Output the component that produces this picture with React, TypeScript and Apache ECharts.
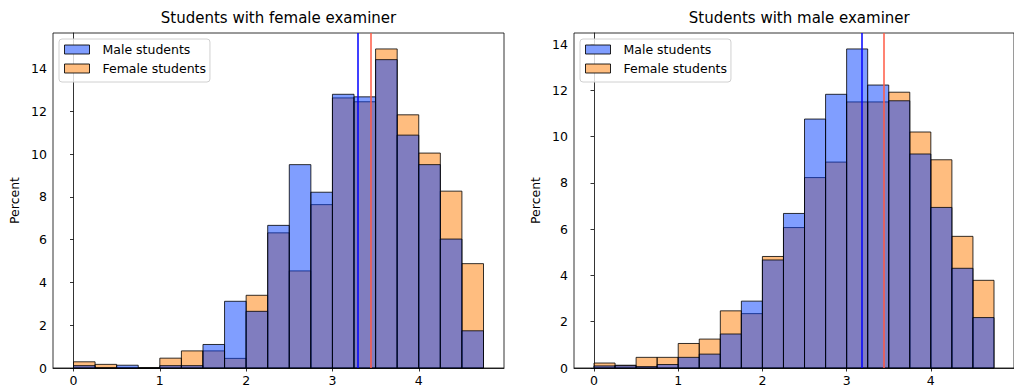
import React, { useEffect, useRef } from "react";
import * as echarts from "echarts";

// Histogram bins (start of each 0.25-wide bin)
const binStarts = [0, 0.25, 0.5, 0.75, 1, 1.25, 1.5, 1.75, 2, 2.25, 2.5, 2.75, 3, 3.25, 3.5, 3.75, 4, 4.25, 4.5];
const binWidth = 0.25;

// Panel 1: students with female examiner (percent)
const femExMale = [0.11, 0, 0.13, 0, 0.11, 0.11, 1.1, 3.12, 2.65, 6.67, 9.51, 8.22, 12.8, 12.68, 14.42, 10.89, 9.51, 6.03, 1.74];
const femExFemale = [0.29, 0.17, 0, 0, 0.46, 0.8, 0.8, 0.45, 3.4, 6.32, 4.54, 7.64, 12.63, 12.45, 14.92, 11.84, 10.05, 8.27, 4.88];
const femExMeans = { male: 3.295, female: 3.442 };

// Panel 2: students with male examiner (percent)
const maleExMale = [0.09, 0.1, 0.06, 0.15, 0.46, 0.6, 1.47, 2.89, 4.67, 6.68, 10.76, 11.83, 13.79, 12.23, 11.55, 9.25, 6.94, 4.31, 2.18];
const maleExFemale = [0.215, 0.12, 0.46, 0.46, 1.06, 1.25, 2.47, 2.35, 4.82, 6.07, 8.23, 8.9, 11.5, 11.5, 11.92, 10.2, 9.0, 5.69, 3.79];
const maleExMeans = { male: 3.177, female: 3.44 };

const titles = ["Students with female examiner", "Students with male examiner"];
const xTicks = [0, 1, 2, 3, 4];
const yTicks = [0, 2, 4, 6, 8, 10, 12, 14];

const BLUE = "rgba(2,62,255,0.5)";
const ORANGE = "rgba(255,124,0,0.5)";
const FONT = "DejaVu Sans";

function histData(values: number[]) {
  return binStarts.map((s, i) => [s, s + binWidth, values[i]]);
}

function histSeries(name: string, values: number[], color: string, idx: number, mean?: { value: number; color: string }[]) {
  const s: any = {
    type: "custom",
    name,
    xAxisIndex: idx,
    yAxisIndex: idx,
    data: histData(values),
    encode: { x: [0, 1], y: 2 },
    renderItem: (params: any, api: any) => {
      const x0 = api.value(0);
      const x1 = api.value(1);
      const v = api.value(2);
      const p0 = api.coord([x0, v]);
      const p1 = api.coord([x1, 0]);
      return {
        type: "rect",
        shape: { x: p0[0], y: p0[1], width: p1[0] - p0[0], height: p1[1] - p0[1] },
        style: { fill: color, stroke: "rgba(0,0,0,0.8)", lineWidth: 1 },
      };
    },
  };
  if (mean) {
    s.markLine = {
      silent: true,
      symbol: "none",
      label: { show: false },
      animation: false,
      data: mean.map((m) => ({ xAxis: m.value, lineStyle: { color: m.color, width: 1.5, type: "solid" } })),
    };
  }
  return s;
}

export default function App() {
  const ref = useRef<HTMLDivElement>(null);
  useEffect(() => {
    if (!ref.current) return;
    const chart = echarts.init(ref.current, undefined, { renderer: "svg" });
    const grids = [
      { left: 53, top: 33, width: 451, height: 335 },
      { left: 574, top: 33, width: 450.5, height: 335 },
    ];
    const maxes = [
      Math.max(...femExMale, ...femExFemale) * 1.05,
      Math.max(...maleExMale, ...maleExFemale) * 1.05,
    ];
    const xAxis = [0, 1].map((i) => ({
      type: "value",
      gridIndex: i,
      min: -0.2375,
      max: 4.9875,
      splitLine: { show: false },
      axisLine: { show: true, onZero: false, lineStyle: { color: "#000", width: 0.8 } },
      axisTick: { show: true, customValues: xTicks, length: 3.5, lineStyle: { color: "#000", width: 0.8 } },
      axisLabel: { customValues: xTicks, margin: 6, color: "#000", fontSize: 12.5, fontFamily: FONT },
    }));
    const yAxis = [0, 1].map((i) => ({
      type: "value",
      gridIndex: i,
      min: 0,
      max: maxes[i],
      name: "Percent",
      nameLocation: "middle",
      nameRotate: 90,
      nameGap: 32,
      nameTextStyle: { color: "#000", fontSize: 12.5, fontFamily: FONT },
      splitLine: { show: false },
      axisLine: { show: true, lineStyle: { color: "#000", width: 0.8 } },
      axisTick: { show: true, customValues: yTicks, length: 3.5, lineStyle: { color: "#000", width: 0.8 } },
      axisLabel: { customValues: yTicks, margin: 6, color: "#000", fontSize: 12.5, fontFamily: FONT },
    }));
    const legendCommon = {
      orient: "vertical",
      top: 39,
      itemWidth: 25,
      itemHeight: 9,
      itemGap: 6,
      padding: [4, 4, 7, 5],
      backgroundColor: "rgba(255,255,255,0.8)",
      borderColor: "#d0d0d0",
      borderWidth: 1,
      borderRadius: 3,
      icon: "rect",
      selectedMode: false,
      textStyle: { fontSize: 12.5, color: "#000", fontFamily: FONT, padding: [0, 0, 0, 8] },
      data: [
        { name: "Male students", itemStyle: { color: "#809eff", borderColor: "rgba(0,0,0,0.85)", borderWidth: 1 } },
        { name: "Female students", itemStyle: { color: "#ffbd7f", borderColor: "rgba(0,0,0,0.85)", borderWidth: 1 } },
      ],
    };
    chart.setOption({
      animation: false,
      title: [
        { text: titles[0], left: 53 + 451 / 2, top: 10, textAlign: "center", padding: 0, textStyle: { fontSize: 15, fontWeight: "normal", color: "#000", fontFamily: FONT } },
        { text: titles[1], left: 574 + 450.5 / 2, top: 10, textAlign: "center", padding: 0, textStyle: { fontSize: 15, fontWeight: "normal", color: "#000", fontFamily: FONT } },
      ],
      legend: [
        { ...legendCommon, left: 59 },
        { ...legendCommon, left: 580 },
      ],
      grid: grids.map((g) => ({ ...g, show: true, borderColor: "#000", borderWidth: 0.8, backgroundColor: "transparent" })),
      xAxis,
      yAxis,
      series: [
        histSeries("Female students", femExFemale, ORANGE, 0),
        histSeries("Male students", femExMale, BLUE, 0, [
          { value: femExMeans.male, color: "#0000ff" },
          { value: femExMeans.female, color: "#ff5a45" },
        ]),
        histSeries("Female students", maleExFemale, ORANGE, 1),
        histSeries("Male students", maleExMale, BLUE, 1, [
          { value: maleExMeans.male, color: "#0000ff" },
          { value: maleExMeans.female, color: "#ff5a45" },
        ]),
      ],
    });
    return () => chart.dispose();
  }, []);
  return (
    <div
      ref={ref}
      style={{ position: "fixed", left: 0, top: 0, width: 1014, height: 389, background: "#fff" }}
    />
  );
}
